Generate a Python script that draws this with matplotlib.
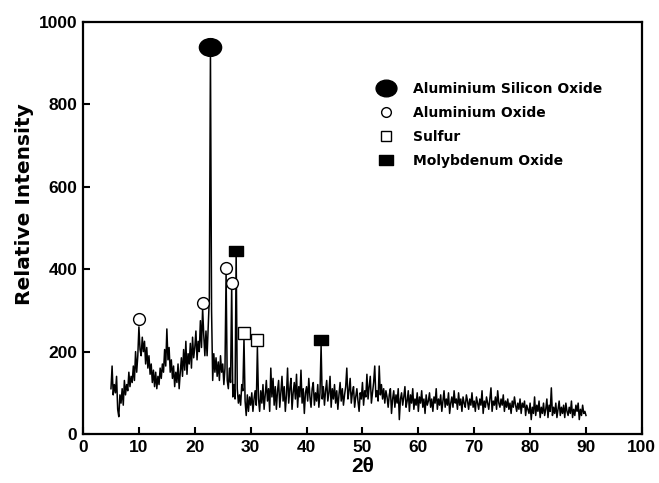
import numpy as np
import matplotlib
matplotlib.use("Agg")
import matplotlib.pyplot as plt
from matplotlib.path import Path
from matplotlib.transforms import Affine2D
from matplotlib.lines import Line2D

# ---- data ----
theta_start, theta_end, theta_step = 5.0, 90.0, 0.2
intensity = [
    # 5
    110, 165, 95, 120, 100,
    # 6
    140, 60, 42, 95, 75,
    # 7
    110, 70, 130, 95, 120,
    # 8
    105, 150, 115, 140, 125,
    # 9
    165, 130, 200, 150, 190,
    # 10
    260, 205, 190, 235, 200,
    # 11
    225, 170, 210, 160, 190,
    # 12
    145, 170, 125, 155, 115,
    # 13
    150, 110, 140, 120, 160,
    # 14
    135, 170, 150, 205, 165,
    # 15
    255, 180, 210, 150, 180,
    # 16
    135, 165, 115, 150, 125,
    # 17
    170, 110, 150, 185, 140,
    # 18
    205, 155, 225, 145, 195,
    # 19
    170, 220, 160, 235, 185,
    # 20
    210, 250, 180, 225, 200,
    # 21
    275, 210, 305, 240, 190,
    # 22
    250, 190, 260, 330, 930,
    # 23
    300, 130, 195, 150, 185,
    # 24
    140, 175, 130, 190, 150,
    # 25
    170, 120, 160, 390, 130,
    # 26
    110, 160, 125, 360, 90,
    # 27
    120, 85, 440, 110, 75,
    # 28
    95, 70, 120, 105, 232,
    # 29
    80, 45, 95, 55, 90,
    # 30
    70, 100, 55, 85, 105,
    # 31
    70, 210, 85, 55, 105,
    # 32
    75, 120, 60, 95, 130,
    # 33
    80, 110, 55, 160, 90,
    # 34
    135, 70, 115, 60, 105,
    # 35
    130, 65, 100, 140, 80,
    # 36
    115, 55, 95, 160, 75,
    # 37
    110, 135, 60, 100, 125,
    # 38
    85, 145, 65, 115, 90,
    # 39
    155, 75, 110, 50, 100,
    # 40
    115, 80, 135, 90, 65,
    # 41
    110, 125, 70, 100, 80,
    # 42
    120, 65, 100, 215, 85,
    # 43
    115, 70, 105, 130, 80,
    # 44
    100, 140, 65, 110, 85,
    # 45
    120, 75, 105, 60, 95,
    # 46
    125, 80, 110, 70, 95,
    # 47
    115, 160, 85, 105, 135,
    # 48
    75, 100, 115, 65, 90,
    # 49
    110, 80, 55, 100, 85,
    # 50
    125, 70, 105, 90, 145,
    # 51
    85, 115, 140, 75, 100,
    # 52
    125, 165, 90, 105, 80,
    # 53
    165, 95, 120, 85, 110,
    # 54
    75, 105, 90, 65, 95,
    # 55
    110, 50, 85, 105, 65,
    # 56
    95, 75, 110, 35, 85,
    # 57
    100, 70, 90, 115, 65,
    # 58
    80, 105, 55, 95, 75,
    # 59
    110, 60, 85, 70, 100,
    # 60
    55, 90, 75, 105, 65,
    # 61
    85, 50, 95, 70, 80,
    # 62
    100, 65, 85, 55, 90,
    # 63
    75, 110, 60, 85, 70,
    # 64
    95, 55, 80, 105, 65,
    # 65
    85, 70, 100, 50, 75,
    # 66
    90, 65, 105, 75, 85,
    # 67
    60, 100, 70, 85, 55,
    # 68
    90, 75, 65, 95, 80,
    # 69
    60, 85, 70, 100, 65,
    # 70
    80, 55, 90, 75, 60,
    # 71
    85, 70, 105, 50, 80,
    # 72
    65, 90, 75, 60, 85,
    # 73
    112, 55, 80, 70, 90,
    # 74
    60, 105, 75, 65, 85,
    # 75
    70, 95, 55, 80, 65,
    # 76
    85, 60, 75, 50, 80,
    # 77
    65, 90, 70, 55, 75,
    # 78
    60, 85, 50, 75, 65,
    # 79
    80, 45, 70, 60, 50,
    # 80
    75, 35, 65, 50, 90,
    # 81
    45, 70, 55, 80, 40,
    # 82
    65, 50, 75, 45, 60,
    # 83
    85, 40, 70, 55, 112,
    # 84
    45, 65, 50, 75, 40,
    # 85
    60, 80, 45, 65, 50,
    # 86
    70, 40, 75, 55, 45,
    # 87
    65, 50, 80, 40, 60,
    # 88
    45, 70, 55, 75, 35,
    # 89
    60, 45, 70, 50, 55,
    # 90
    45,
]

# phase markers (2theta, intensity)
als_x, als_y = [22.8], [940]                       # Aluminium Silicon Oxide
alo_x, alo_y = [10.0, 21.4, 25.6, 26.6], [280, 318, 403, 367]   # Aluminium Oxide
sul_x, sul_y = [28.8, 31.2], [245, 228]            # Sulfur
moo_x, moo_y = [27.4, 42.6], [445, 228]            # Molybdenum Oxide

legend_labels = ["Aluminium Silicon Oxide", "Aluminium Oxide", "Sulfur", "Molybdenum Oxide"]
x_ticks = [0, 10, 20, 30, 40, 50, 60, 70, 80, 90, 100]
y_ticks = [0, 200, 400, 600, 800, 1000]

# ---- plotting ----
plt.rcParams['font.family'] = ['Liberation Sans', 'DejaVu Sans']
plt.rcParams['font.weight'] = 'bold'

n = int(round((theta_end - theta_start) / theta_step)) + 1
two_theta = theta_start + theta_step * np.arange(n)
intensity = np.array(intensity[:n], dtype=float)

fig = plt.figure(figsize=(6.59, 4.83), dpi=100)
ax = fig.add_axes([0.126, 0.1014, 0.848, 0.8531])

ax.plot(two_theta, intensity, color='black', lw=1.1)

ellipse = Path.unit_circle().transformed(Affine2D().scale(1.25, 1.0))
rect = Path.unit_rectangle().transformed(
    Affine2D().translate(-0.5, -0.5).scale(1.6, 1.0))

ax.plot(als_x, als_y, ls='none', marker=ellipse, ms=16, mfc='black', mec='black')
ax.plot(alo_x, alo_y, ls='none', marker='o', ms=8.5, mfc='white', mec='black', mew=1.0)
ax.plot(sul_x, sul_y, ls='none', marker='s', ms=8, mfc='white', mec='black', mew=1.0)
ax.plot(moo_x, moo_y, ls='none', marker=rect, ms=10.5, mfc='black', mec='black')

handles = [
    Line2D([], [], ls='none', marker=ellipse, ms=15, mfc='black', mec='black'),
    Line2D([], [], ls='none', marker='o', ms=7, mfc='white', mec='black', mew=1.0),
    Line2D([], [], ls='none', marker='s', ms=7.5, mfc='white', mec='black', mew=1.0),
    Line2D([], [], ls='none', marker=rect, ms=10.5, mfc='black', mec='black'),
]
ax.legend(handles, legend_labels, loc='upper left', bbox_to_anchor=(0.517, 0.868),
          frameon=False, prop={'family': 'DejaVu Sans', 'weight': 'bold', 'size': 10},
          handletextpad=1.35, labelspacing=0.73, handlelength=1.2, borderaxespad=0)

ax.set_xlim(0, 100)
ax.set_ylim(0, 1000)
ax.set_xticks(x_ticks)
ax.set_yticks(y_ticks)
ax.tick_params(direction='in', length=5, width=1.5, labelsize=12.5, pad=4)
for lab in ax.get_xticklabels() + ax.get_yticklabels():
    lab.set_fontweight('bold')
for s in ax.spines.values():
    s.set_linewidth(1.6)

ax.set_xlabel('2θ', fontsize=15, fontweight='bold', labelpad=2)
ax.set_ylabel('Relative Intensity', fontsize=14.5, fontweight='bold',
              family='DejaVu Sans')
ax.yaxis.set_label_coords(-0.087, 0.558)

fig.savefig('out.png', dpi=100)
